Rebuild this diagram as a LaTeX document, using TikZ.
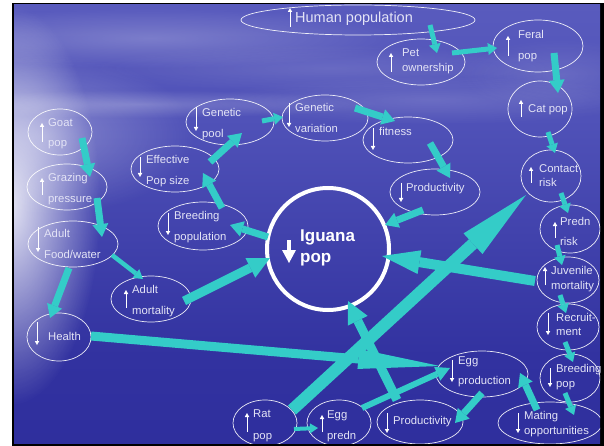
\documentclass[tikz,border=0pt]{standalone}
\usepackage{fontspec}
\setmainfont{Liberation Sans}
\usetikzlibrary{arrows.meta,calc,fadings,shapes.geometric}

\definecolor{flowc}{RGB}{52,204,200}
\definecolor{ink}{RGB}{228,228,246}
\definecolor{skytop}{RGB}{106,108,200}
\definecolor{skymid}{RGB}{80,82,184}
\definecolor{skylow}{RGB}{50,50,160}
\definecolor{skybot}{RGB}{38,38,150}

\pgfdeclareverticalshading{skyfill}{100bp}{color(0bp)=(skybot); color(35bp)=(skylow); color(62bp)=(skymid); color(100bp)=(skytop)}
\tikzfading[name=softblob, inner color=transparent!0, outer color=transparent!100]

\tikzset{
  cpt/.style={ellipse, draw=white, draw opacity=0.9, line width=0.7pt, inner sep=0pt},
  lbl/.style={anchor=mid west, inner sep=0pt, text=ink, font=\fontsize{11.3}{13}\selectfont},
  ind/.style={draw=white, line width=0.8pt, -{Triangle[length=4pt,width=4.5pt,line width=0pt]}},
  conn/.style n args={3}{draw=flowc, line width=#1, -{Triangle[length=#3,width=#2,line width=0pt]}},
  thinflow/.style={conn={5pt}{12pt}{9pt}},
  midflow/.style={conn={7pt}{16pt}{13pt}},
  wideflow/.style={conn={9pt}{22pt}{22pt}},
  haze/.style={fill=white, path fading=softblob}
}

\begin{document}
\begin{tikzpicture}[x=1pt, y=-1pt]
\useasboundingbox (0,0) rectangle (604,446);

% frame and sky
\fill[white] (0,0) rectangle (604,446);
\fill[black] (12,3) rectangle (604,446);
\shade[shading=skyfill] (14,5) rectangle (600,443);

\begin{scope}
\clip (14,5) rectangle (600,443);

% light haze on the left and cloud streaks in the upper sky
\path[haze, opacity=0.85] (10,205) ellipse [x radius=90pt, y radius=200pt];
\path[haze, opacity=0.30] (45,135) ellipse [x radius=150pt, y radius=80pt];
\path[haze, opacity=0.22] (150,38) ellipse [x radius=260pt, y radius=30pt];
\path[haze, opacity=0.22] (140,104) ellipse [x radius=240pt, y radius=14pt];
\path[haze, opacity=0.15] (430,100) ellipse [x radius=220pt, y radius=24pt];
\path[haze, opacity=0.12] (560,75) ellipse [x radius=100pt, y radius=36pt];
\path[haze, opacity=0.12] (330,68) ellipse [x radius=240pt, y radius=24pt];

% concept ellipses
\node[cpt, minimum width=234pt, minimum height=30pt] (human) at (358,20) {};
\node[cpt, minimum width=88pt, minimum height=46pt] (pet) at (421,62) {};
\node[cpt, minimum width=90pt, minimum height=52pt] (feral) at (538,46) {};
\node[cpt, minimum width=64pt, minimum height=56pt] (cat) at (540,109) {};
\node[cpt, minimum width=60pt, minimum height=52pt] (contact) at (551,176) {};
\node[cpt, minimum width=60pt, minimum height=48pt] (predn) at (570,229) {};
\node[cpt, minimum width=62pt, minimum height=46pt] (juv) at (568,280) {};
\node[cpt, minimum width=62pt, minimum height=46pt] (recruit) at (568,327) {};
\node[cpt, minimum width=60pt, minimum height=48pt] (breedpop) at (570,378) {};
\node[cpt, minimum width=104pt, minimum height=42pt] (mating) at (550,423) {};
\node[cpt, minimum width=92pt, minimum height=46pt] (eggprod) at (482,374) {};
\node[cpt, minimum width=86pt, minimum height=44pt] (prodB) at (420,422) {};
\node[cpt, minimum width=64pt, minimum height=46pt] (eggpredn) at (339,423) {};
\node[cpt, minimum width=64pt, minimum height=46pt] (rat) at (265,423) {};
\node[cpt, minimum width=64pt, minimum height=48pt] (health) at (59,337) {};
\node[cpt, minimum width=80pt, minimum height=46pt] (adultmort) at (151,299) {};
\node[cpt, minimum width=90pt, minimum height=46pt] (food) at (73,244) {};
\node[cpt, minimum width=80pt, minimum height=46pt] (grazing) at (67,187) {};
\node[cpt, minimum width=64pt, minimum height=46pt] (goat) at (60,132) {};
\node[cpt, minimum width=90pt, minimum height=48pt] (breeding) at (203,226) {};
\node[cpt, minimum width=88pt, minimum height=46pt] (effective) at (175,169) {};
\node[cpt, minimum width=88pt, minimum height=46pt] (gpool) at (230,122) {};
\node[cpt, minimum width=86pt, minimum height=46pt] (gvar) at (325,118) {};
\node[cpt, minimum width=90pt, minimum height=46pt] (fitness) at (408,140) {};
\node[cpt, minimum width=90pt, minimum height=46pt] (prodT) at (435,192) {};
\node[circle, draw=white, line width=4pt, minimum size=122pt, inner sep=0pt] (iguana) at (328,249) {};

% labels
\node[lbl, font=\fontsize{14.5}{16}\selectfont] (human-a) at (295,20) {Human population};
\node[lbl] (pet-a) at (402,54) {Pet};
\node[lbl] (pet-b) at (402,69) {ownership};
\node[lbl] (feral-a) at (518,36) {Feral};
\node[lbl] (feral-b) at (518,57) {pop};
\node[lbl] (cat-a) at (528,110) {Cat pop};
\node[lbl] (contact-a) at (539,170) {Contact};
\node[lbl] (contact-b) at (539,184) {risk};
\node[lbl] (predn-a) at (560,223) {Predn};
\node[lbl] (predn-b) at (560,243) {risk};
\node[lbl] (juv-a) at (551,272) {Juvenile};
\node[lbl] (juv-b) at (551,287) {mortality};
\node[lbl] (recruit-a) at (556,319) {Recruit-};
\node[lbl] (recruit-b) at (556,333) {ment};
\node[lbl] (breedpop-a) at (556,370) {Breeding};
\node[lbl] (breedpop-b) at (556,385) {pop};
\node[lbl] (mating-a) at (524,417) {Mating};
\node[lbl] (mating-b) at (524,432) {opportunities};
\node[lbl] (eggprod-a) at (458,362) {Egg};
\node[lbl] (eggprod-b) at (458,382) {production};
\node[lbl] (prodB-a) at (393,422) {Productivity};
\node[lbl] (eggpredn-a) at (327,416) {Egg};
\node[lbl] (eggpredn-b) at (327,437) {predn};
\node[lbl] (rat-a) at (253,415) {Rat};
\node[lbl] (rat-b) at (253,437) {pop};
\node[lbl] (health-a) at (48,338) {Health};
\node[lbl] (adultmort-a) at (132,291) {Adult};
\node[lbl] (adultmort-b) at (132,312) {mortality};
\node[lbl] (food-a) at (44,235) {Adult};
\node[lbl] (food-b) at (44,256) {Food/water};
\node[lbl] (grazing-a) at (48,179) {Grazing};
\node[lbl] (grazing-b) at (48,200) {pressure};
\node[lbl] (goat-a) at (48,124) {Goat};
\node[lbl] (goat-b) at (48,144) {pop};
\node[lbl] (breeding-a) at (174,217) {Breeding};
\node[lbl] (breeding-b) at (174,238) {population};
\node[lbl] (effective-a) at (146,161) {Effective};
\node[lbl] (effective-b) at (146,182) {Pop size};
\node[lbl] (gpool-a) at (202,114) {Genetic};
\node[lbl] (gpool-b) at (202,135) {pool};
\node[lbl] (gvar-a) at (295,109) {Genetic};
\node[lbl] (gvar-b) at (295,130) {variation};
\node[lbl] (fitness-a) at (379,133) {fitness};
\node[lbl] (prodT-a) at (406,189) {Productivity};
\node[lbl, text=white, font=\bfseries\fontsize{17}{20}\selectfont] (iguana-a) at (300,239) {Iguana};
\node[lbl, text=white, font=\bfseries\fontsize{17}{20}\selectfont] (iguana-b) at (300,260) {pop};

% increase / decrease markers
\draw[ind] ($(human)+(-68,7)$) -- ++(0,-19);
\draw[ind] ($(pet)+(-30,10)$) -- ++(0,-19);
\draw[ind] ($(feral)+(-30,10)$) -- ++(0,-20);
\draw[ind] ($(cat)+(-19,8)$) -- ++(0,-17);
\draw[ind] ($(contact)+(-20,7)$) -- ++(0,-16);
\draw[ind] ($(predn)+(-15,9)$) -- ++(0,-16);
\draw[ind] ($(juv)+(-23,5)$) -- ++(0,-18);
\draw[ind] ($(recruit)+(-20,-14)$) -- ++(0,22);
\draw[ind] ($(breedpop)+(-20,-10)$) -- ++(0,19);
\draw[ind] ($(mating)+(-32,-10)$) -- ++(0,20);
\draw[ind] ($(eggprod)+(-30,-14)$) -- ++(0,22);
\draw[ind] ($(prodB)+(-33,-9)$) -- ++(0,20);
\draw[ind] ($(eggpredn)+(-17,9)$) -- ++(0,-17);
\draw[ind] ($(rat)+(-18,9)$) -- ++(0,-19);
\draw[ind] ($(health)+(-22,-15)$) -- ++(0,23);
\draw[ind] ($(adultmort)+(-25,9)$) -- ++(0,-18);
\draw[ind] ($(food)+(-35,-17)$) -- ++(0,25);
\draw[ind] ($(grazing)+(-25,8)$) -- ++(0,-17);
\draw[ind] ($(goat)+(-18,10)$) -- ++(0,-19);
\draw[ind] ($(breeding)+(-35,-13)$) -- ++(0,22);
\draw[ind] ($(effective)+(-35,-12)$) -- ++(0,20);
\draw[ind] ($(gpool)+(-34,-15)$) -- ++(0,24);
\draw[ind] ($(gvar)+(-36,-15)$) -- ++(0,24);
\draw[ind] ($(fitness)+(-35,-12)$) -- ++(0,22);
\draw[ind] ($(prodT)+(-34,-9)$) -- ++(0,19);
\draw[draw=white, line width=4.5pt, -{Triangle[length=13pt,width=14pt,line width=0pt]}] ($(iguana)+(-39,-9)$) -- ++(0,23);

% causal links
\draw[midflow] ($(goat)+(22,6)$) -- ($(grazing)+(23,-10)$);
\draw[midflow] ($(grazing)+(30,11)$) -- ($(food)+(29,-7)$);
\draw[midflow] ($(food)+(-4,24)$) -- ($(health)+(-9,-19)$);
\draw[conn={4.5pt}{11pt}{9pt}] ($(food)+(39,11)$) -- ($(adultmort)+(-8,-20)$);
\draw[wideflow] ($(adultmort)+(33,2)$) -- ($(iguana)+(-58,9)$);
\draw[conn={9pt}{20pt}{82pt}] ($(health)+(32,-1)$) -- ($(eggprod)+(-42,-8)$);
\draw[midflow] ($(iguana)+(-60,-12)$) -- ($(breeding)+(27,-1)$);
\draw[midflow] ($(breeding)+(19,-18)$) -- ($(effective)+(28,4)$);
\draw[midflow] ($(effective)+(35,-7)$) -- ($(gpool)+(12,11)$);
\draw[thinflow] ($(gpool)+(32,-1)$) -- ($(gvar)+(-42,-1)$);
\draw[midflow] ($(gvar)+(30,-10)$) -- ($(fitness)+(-13,-19)$);
\draw[midflow] ($(fitness)+(22,3)$) -- ($(prodT)+(15,-14)$);
\draw[midflow] ($(prodT)+(-12,18)$) -- ($(iguana)+(57,-24)$);
\draw[thinflow] ($(human)+(72,5)$) -- ($(pet)+(16,-9)$);
\draw[thinflow] ($(pet)+(31,-9)$) -- ($(feral)+(-41,2)$);
\draw[midflow] ($(feral)+(16,7)$) -- ($(cat)+(18,-16)$);
\draw[thinflow] ($(cat)+(8,23)$) -- ($(contact)+(4,-23)$);
\draw[thinflow] ($(contact)+(10,17)$) -- ($(predn)+(-2,-16)$);
\draw[thinflow] ($(predn)+(-13,16)$) -- ($(juv)+(-6,-15)$);
\draw[thinflow] ($(juv)+(-8,15)$) -- ($(recruit)+(-2,-14)$);
\draw[thinflow] ($(recruit)+(-3,15)$) -- ($(breedpop)+(3,-16)$);
\draw[thinflow] ($(breedpop)+(-5,15)$) -- ($(mating)+(24,-8)$);
\draw[midflow] ($(mating)+(-13,-13)$) -- ($(eggprod)+(38,-1)$);
\draw[midflow] ($(eggprod)+(0,19)$) -- ($(prodB)+(35,1)$);
\draw[conn={6pt}{15pt}{14pt}] ($(eggpredn)+(23,-15)$) -- ($(eggprod)+(-32,-6)$);
\draw[conn={4pt}{10pt}{8pt}] ($(rat)+(29,6)$) -- ($(eggpredn)+(-21,5)$);
\draw[wideflow] ($(prodB)+(-23,-22)$) -- ($(iguana)+(20,52)$);
\draw[conn={12pt}{28pt}{72pt}] ($(rat)+(27,-13)$) -- ($(contact)+(-25,19)$);
\draw[conn={10pt}{24pt}{38pt}] ($(juv)+(-33,1)$) -- ($(iguana)+(54,7)$);
\end{scope}
\end{tikzpicture}
\end{document}
